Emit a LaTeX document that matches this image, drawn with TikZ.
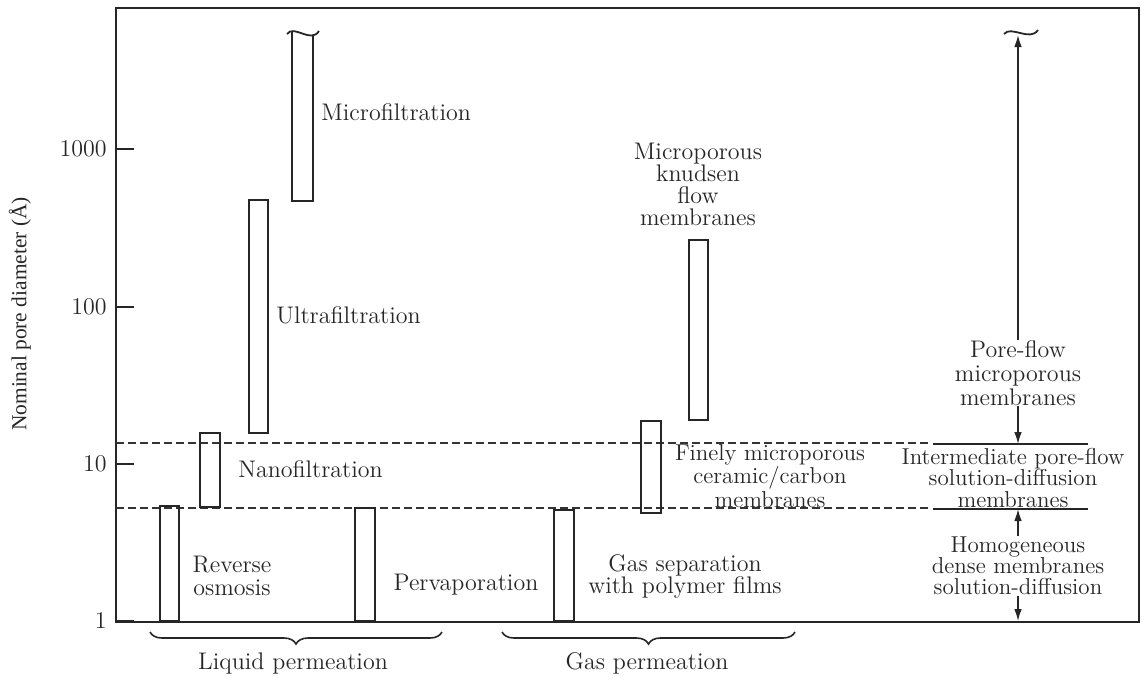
\documentclass[tikz,border=0pt]{standalone}
\usepackage{fontspec}
\newfontfamily\axisfont{Liberation Serif}
\usetikzlibrary{arrows.meta,positioning,decorations.pathreplacing}

\begin{document}
\begin{tikzpicture}[
  x=0.5pt, y=-0.5pt,
  font=\fontsize{12}{11}\selectfont,
  every node/.style={text=black!85},
  lbl/.style={align=center, inner sep=0pt},
  tight/.style={font=\fontsize{11.5}{10.6}\selectfont},
  bar/.style={draw=black!85, line width=0.9pt},
  guide/.style={draw=black!80, line width=0.7pt, dash pattern=on 4pt off 2pt},
  arrow/.style={-{Latex[length=6pt,width=3.8pt]}, line width=0.7pt, draw=black!85},
  pbrace/.style={draw=black!85, line width=0.8pt, decorate, decoration={brace, mirror, amplitude=6pt}}
]
\useasboundingbox (0,0) rectangle (1142,677);

% frame and axis
\draw[bar] (116,8) rectangle (1139,622);
\foreach \v/\yy in {1/621,10/464,100/307,1000/149} {
  \draw[bar] (116,\yy) -- (134,\yy);
  \node[anchor=east, inner sep=0pt] (t\v) at (107,\yy) {\v};
}
\node[rotate=90, font=\axisfont\fontsize{10.7}{12}\selectfont] (ylab) at (20,314) {Nominal pore diameter (Å)};

% boundaries
\draw[guide] (116,443) -- (931,443);
\draw[guide] (116,508) -- (931,508);
\draw[bar, line width=0.7pt] (933,444) -- (1088,444);
\draw[bar, line width=0.7pt] (933,509) -- (1088,509);

% bars
\draw[bar] (292,31) -- (292,201) -- (313,201) -- (313,35.4);
\draw[bar] (287,34) .. controls (294,24) and (311,44) .. (319,31);
\draw[bar] (249,200) rectangle (268,433);
\draw[bar] (200,433) rectangle (220,507);
\draw[bar] (160,506) rectangle (179,621);
\draw[bar] (355,508) rectangle (375,621);
\draw[bar] (554,510) rectangle (574,621);
\draw[bar] (641,421) rectangle (661,513);
\draw[bar] (689,240) rectangle (708,420);

% labels
\node[lbl, anchor=west] (mf) at (321,112) {Microfiltration};
\node[lbl, anchor=west] (uf) at (276,315) {Ultrafiltration};
\node[lbl, anchor=west] (nf) at (238,469) {Nanofiltration};
\node[lbl, font=\fontsize{12}{11.5}\selectfont] (ro) at (232,576) {Reverse\\osmosis};
\node[lbl] (pv) at (466,585) {Pervaporation};
\node[lbl] (gs) at (685,576) {Gas separation\\with polymer films};
\node[lbl, tight] (fm) at (770,476) {Finely microporous\\ceramic/carbon\\membranes};
\node[lbl] (kn) at (698,184) {Microporous\\knudsen\\flow\\membranes};

% right-hand regimes
\node[lbl, font=\fontsize{12}{12}\selectfont] (pf) at (1018,373) {Pore-flow\\microporous\\membranes};
\node[lbl, tight] (im) at (1013,478) {Intermediate pore-flow\\solution-diffusion\\membranes};
\node[lbl, tight] (hd) at (1018,566) {Homogeneous\\dense membranes\\solution-diffusion};
\coordinate (cut) at (1018,35);
\coordinate (upper) at (1018,444);
\coordinate (lower) at (1018,509);
\coordinate (base) at (1018,621);
\draw[bar] (1004,34) .. controls (1011,25) and (1030,42) .. (1038,30);
\draw[arrow] (pf) -- (cut);
\draw[arrow] (pf) -- (upper);
\draw[arrow] (hd) -- (lower);
\draw[arrow] (hd) -- (base);

% groups
\draw[pbrace] (150,632) -- (442,632);
\draw[pbrace] (502,632) -- (795,632);
\node[lbl] (lp) at (293,663) {Liquid permeation};
\node[lbl] (gp) at (647,663) {Gas permeation};
\end{tikzpicture}
\end{document}
